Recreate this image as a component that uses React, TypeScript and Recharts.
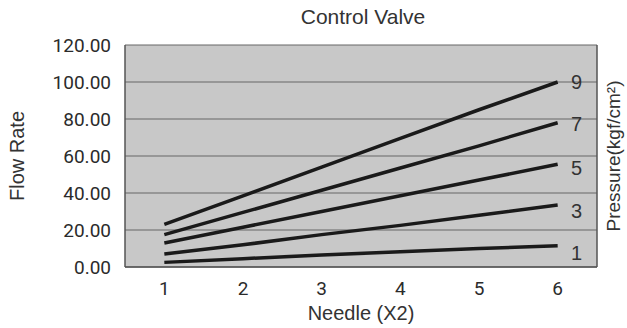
import { LineChart, Line, XAxis, YAxis, CartesianGrid } from "recharts";

// needle opening (X2)
const needles = [1, 2, 3, 4, 5, 6];

// flow rate for each pressure curve (kgf/cm2)
const flow1 = [2.5, 4.5, 6.5, 8.2, 10, 11.5];
const flow3 = [7, 12, 17.5, 22.5, 28, 33.5];
const flow5 = [13, 21.5, 30, 38.5, 47, 55.5];
const flow7 = [17.5, 29.5, 41.5, 53.5, 65.5, 78];
const flow9 = [23, 38.5, 54, 69.5, 85, 100];

const pressures = ["1", "3", "5", "7", "9"];
const yTicks = [0, 20, 40, 60, 80, 100, 120];

const series = [flow1, flow3, flow5, flow7, flow9];
const labelDy = [7, 6, 4, 1, 0];

const data = needles.map((n, i) => ({
  needle: n,
  p1: flow1[i],
  p3: flow3[i],
  p5: flow5[i],
  p7: flow7[i],
  p9: flow9[i],
}));

const TICK_FONT = { fontFamily: "Roboto", fontWeight: 400, fontSize: 19, fill: "#2b2b2b" };
const TITLE_FONT = "'Liberation Sans', Arial, sans-serif";

export default function App() {
  return (
    <div style={{ position: "absolute", left: 0, top: 0, width: 627, height: 328, background: "#fff" }}>
      <div
        style={{
          position: "absolute",
          top: 5,
          left: 263,
          width: 200,
          textAlign: "center",
          fontFamily: TITLE_FONT,
          fontSize: 21,
          color: "#333",
        }}
      >
        Control Valve
      </div>
      <LineChart width={627} height={328} data={data} margin={{ top: 45, right: 0, bottom: 0, left: 0 }}>
        <CartesianGrid
          vertical={false}
          fill="#c8c8c8"
          fillOpacity={1}
          stroke="#666"
          yAxisId="left"
        />
        <XAxis
          dataKey="needle"
          type="number"
          domain={[0.5, 6.5]}
          ticks={needles}
          height={61}
          tickLine={false}
          tickMargin={9}
          axisLine={{ stroke: "#555", strokeWidth: 1.5 }}
          tick={TICK_FONT}
          label={{
            value: "Needle (X2)",
            position: "insideBottom",
            offset: 8,
            style: { fontFamily: TITLE_FONT, fontSize: 20, fill: "#333" },
          }}
        />
        <YAxis
          yAxisId="left"
          domain={[0, 120]}
          ticks={yTicks}
          width={125}
          tickLine={false}
          tickMargin={8}
          tickFormatter={(v: number) => v.toFixed(2)}
          axisLine={{ stroke: "#555", strokeWidth: 1.5 }}
          tick={TICK_FONT}
          label={{
            value: "Flow Rate",
            angle: -90,
            position: "insideLeft",
            offset: 17,
            style: { textAnchor: "middle", fontFamily: TITLE_FONT, fontSize: 20, fill: "#333" },
          }}
        />
        <YAxis
          yAxisId="right"
          orientation="right"
          domain={[0, 120]}
          ticks={yTicks}
          width={30}
          tick={false}
          tickLine={false}
          axisLine={{ stroke: "#555", strokeWidth: 1.5 }}
          label={{
            value: "Pressure(kgf/cm²)",
            angle: -90,
            position: "insideRight",
            offset: 14,
            style: { textAnchor: "middle", fontFamily: TITLE_FONT, fontSize: 19, fill: "#333" },
          }}
        />
        {series.map((_, si) => (
          <Line
            key={pressures[si]}
            yAxisId="left"
            dataKey={"p" + pressures[si]}
            stroke="#1a1a1a"
            strokeWidth={3.5}
            dot={false}
            isAnimationActive={false}
            label={(props: any) =>
              props.index === needles.length - 1 ? (
                <text
                  key={"lbl" + si}
                  x={props.x + 19}
                  y={props.y + labelDy[si]}
                  textAnchor="middle"
                  dominantBaseline="central"
                  fontFamily={TITLE_FONT}
                  fontSize={20}
                  fill="#333"
                >
                  {pressures[si]}
                </text>
              ) : (
                <g key={"lbl" + si + "-" + props.index} />
              )
            }
          />
        ))}
      </LineChart>
    </div>
  );
}
